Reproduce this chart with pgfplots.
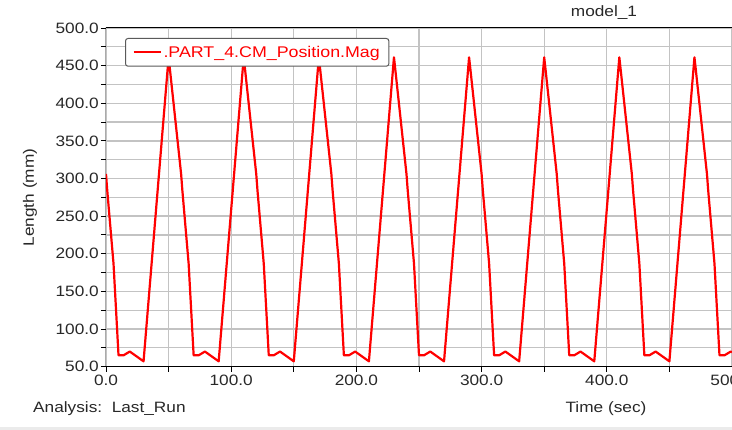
\documentclass[border=0pt]{standalone}
\usepackage{fontspec}
\setmainfont{Liberation Sans}[FakeStretch=1.15]
\usepackage{pgfplots}
\pgfplotsset{compat=1.18}
\definecolor{gridgray}{RGB}{195,195,195}
\definecolor{legborder}{RGB}{90,90,90}
\definecolor{txt}{RGB}{40,40,40}
\begin{document}
\begin{tikzpicture}
\useasboundingbox (-106pt,-63.4pt) rectangle (626pt,338.6pt+28pt);
\fill[white] (-106pt,-63.4pt) rectangle (626pt,366.6pt);
\fill[black!8] (-106pt,-63.4pt) rectangle (626pt,-60.6pt);
\begin{axis}[
  scale only axis,
  width=626pt, height=338.6pt,
  xmin=0, xmax=500, ymin=50, ymax=500,
  xtick={0,100,...,500}, minor x tick num=1,
  ytick={50,100,...,500}, minor y tick num=1,
  grid=both,
  major grid style={gridgray, line width=1.3pt},
  minor grid style={gridgray, line width=1.3pt},
  tick align=outside,
  major tick length=5pt, minor tick length=5pt,
  tick style={black, line width=0.9pt},
  xtick pos=bottom, ytick pos=left,
  axis line style={draw=none},
  /pgf/number format/assume math mode=true,
  /pgf/number format/.cd, fixed, fixed zerofill, precision=1, /pgfplots/.cd,
  ticklabel style={font=\fontsize{15}{17}\selectfont, text=txt},
  yticklabel style={anchor=east, inner sep=0pt, xshift=-2pt},
  xticklabel style={anchor=north, inner sep=0pt, yshift=-3pt},
  legend style={at={(0.0304,0.9705)}, anchor=north west, draw=legborder,
    line width=1pt, rounded corners=2.5pt, fill=white,
    font=\fontsize{15.5}{17}\selectfont, text=red,
    inner xsep=7pt, inner ysep=5.5pt},
  legend image code/.code={\draw[red, line width=2pt] (0pt,0pt) -- (27pt,0pt);},
]
\addplot[red, line width=2.2pt, line join=round] coordinates {
(0,306) (1,284) (6,187) (10,65) (14,65) (19,70) (30,57) (50,461) (51,446)
(60,306) (61,284) (66,187) (70,65) (74,65) (79,70) (90,57) (110,461) (111,446)
(120,306) (121,284) (126,187) (130,65) (134,65) (139,70) (150,57) (170,461) (171,446)
(180,306) (181,284) (186,187) (190,65) (194,65) (199,70) (210,57) (230,461) (231,446)
(240,306) (241,284) (246,187) (250,65) (254,65) (259,70) (270,57) (290,461) (291,446)
(300,306) (301,284) (306,187) (310,65) (314,65) (319,70) (330,57) (350,461) (351,446)
(360,306) (361,284) (366,187) (370,65) (374,65) (379,70) (390,57) (410,461) (411,446)
(420,306) (421,284) (426,187) (430,65) (434,65) (439,70) (450,57) (470,461) (471,446)
(480,306) (481,284) (486,187) (490,65) (494,65) (499,70) (500,69)
};
\addlegendentry{.PART\_4.CM\_Position.Mag}
\draw[black, line width=1pt] (rel axis cs:1,1) -- (rel axis cs:0,1) -- (rel axis cs:0,0) -- (rel axis cs:1,0);
\end{axis}
\node[font=\fontsize{15}{17}\selectfont, text=txt, anchor=center] at (498pt,353.6pt) {model\_1};
\node[font=\fontsize{15}{17}\selectfont, text=txt, rotate=90, anchor=center] at (-76pt,169pt) {Length (mm)};
\node[font=\fontsize{15}{17}\selectfont, text=txt, anchor=west, inner sep=0pt] at (-73pt,-41.6pt) {Analysis:\ \ Last\_Run};
\node[font=\fontsize{15}{17}\selectfont, text=txt, anchor=center] at (500pt,-41.6pt) {Time (sec)};
\end{tikzpicture}
\end{document}
